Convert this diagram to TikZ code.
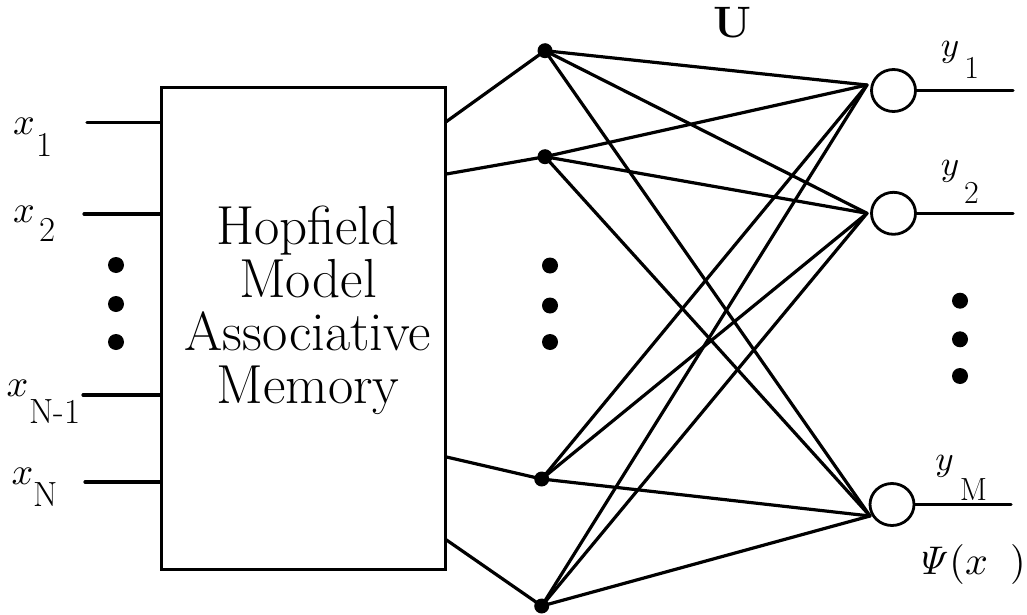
\documentclass[tikz,border=0pt]{standalone}
\usetikzlibrary{shapes.geometric}
\newcommand{\bigmath}[2]{\scalebox{#1}{$#2$}}
\begin{document}
\begin{tikzpicture}[x=1pt,y=-1pt,
  wire/.style={line width=3.2pt, line cap=round},
  hub/.style={circle, fill=black, inner sep=0pt, minimum size=15pt},
  gap/.style={circle, fill=black, inner sep=0pt, minimum size=16pt},
  unit/.style={ellipse, draw, line width=2.8pt, minimum width=44pt, minimum height=42pt, inner sep=0pt},
  memory/.style={draw, line width=3pt, minimum width=283.5pt, minimum height=481pt, inner sep=0pt},
  lbl/.style={inner sep=0pt},
  big/.style={lbl, font=\fontsize{55}{57}\selectfont, anchor=base},
  xsub/.style={lbl, font=\fontsize{35}{37}\selectfont},
  ysub/.style={lbl, font=\fontsize{32}{34}\selectfont},
]
\useasboundingbox (0,0) rectangle (1027,615);

% associative memory block
\node[memory] (hm) at (303.25,328.5) {};
\node[big] (t1) at (308,244) {Hopfield};
\node[big] (t2) at (308,297) {Model};
\node[big] (t3) at (308,350) {Associative};
\node[big] (t4) at (308,403) {Memory};

% inputs
\coordinate (i1) at (87,122.7);
\coordinate (i2) at (84,214);
\coordinate (i3) at (83,395);
\coordinate (i4) at (85,482);
\foreach \i in {i1,i2,i3,i4} \draw[wire] (\i) -- (\i -| hm.west);

\node[lbl] (lx1) at (24,126) {\bigmath{3.8}{x}};
\node[xsub] (sx1) at (45,145) {1};
\node[lbl] (lx2) at (24,214.5) {\bigmath{3.8}{x}};
\node[xsub] (sx2) at (47.5,230) {2};
\node[lbl] (lx3) at (17.5,388) {\bigmath{3.8}{x}};
\node[xsub] (sx3) at (55,411.5) {N-1};
\node[lbl] (lx4) at (22.5,476.5) {\bigmath{3.8}{x}};
\node[xsub] (sx4) at (46,495) {N};

\node[gap] (ld1) at (116,265) {};
\node[gap] (ld2) at (116,304) {};
\node[gap] (ld3) at (116,342) {};

% hidden layer
\node[hub] (d1) at (545,50.7) {};
\node[hub] (d2) at (545,156.7) {};
\node[hub] (d3) at (541.7,479) {};
\node[hub] (d4) at (541.7,606) {};

\coordinate (o1) at (hm.east |- 0,121.5);
\coordinate (o2) at (hm.east |- 0,174);
\coordinate (o3) at (hm.east |- 0,457);
\coordinate (o4) at (hm.east |- 0,540);
\draw[wire] (o1) -- (d1.center);
\draw[wire] (o2) -- (d2.center);
\draw[wire] (o3) -- (d3.center);
\draw[wire] (o4) -- (d4.center);

\node[gap] (md1) at (550,265.5) {};
\node[gap] (md2) at (550,305.5) {};
\node[gap] (md3) at (550,342) {};

% output units
\node[unit] (u1) at (893.5,90.5) {};
\node[unit] (u2) at (893.5,213.3) {};
\node[unit] (uM) at (892,504.5) {};
\coordinate (c1) at (867,85);
\coordinate (c2) at (867,213.3);
\coordinate (cM) at (870,516);

\foreach \d in {d1,d2,d3,d4}
  \foreach \c in {c1,c2,cM}
    \draw[wire] (\d.center) -- (\c);

\coordinate (e1) at (1013,90.5);
\coordinate (e2) at (1013,213.3);
\coordinate (eM) at (1011,504.5);
\draw[wire] (u1.east) -- (e1);
\draw[wire] (u2.east) -- (e2);
\draw[wire] (uM.east) -- (eM);

\node[gap] (rd1) at (960,300.7) {};
\node[gap] (rd2) at (960,339.3) {};
\node[gap] (rd3) at (960,376) {};

\node[lbl] (ly1) at (950,52) {\bigmath{3.5}{y}};
\node[ysub] (sy1) at (971.7,67.5) {1};
\node[lbl] (ly2) at (950,171) {\bigmath{3.5}{y}};
\node[ysub] (sy2) at (971.5,192.5) {2};
\node[lbl] (lyM) at (944.5,466) {\bigmath{3.5}{y}};
\node[ysub] (syM) at (973.5,489.5) {M};

\node[lbl] (psi) at (970,564.5) {\bigmath{4.0}{\mathit{\Psi}(x\;\;)}};

\node[lbl, font=\fontsize{44}{46}\selectfont\bfseries] (U) at (732.5,23) {U};
\end{tikzpicture}
\end{document}
